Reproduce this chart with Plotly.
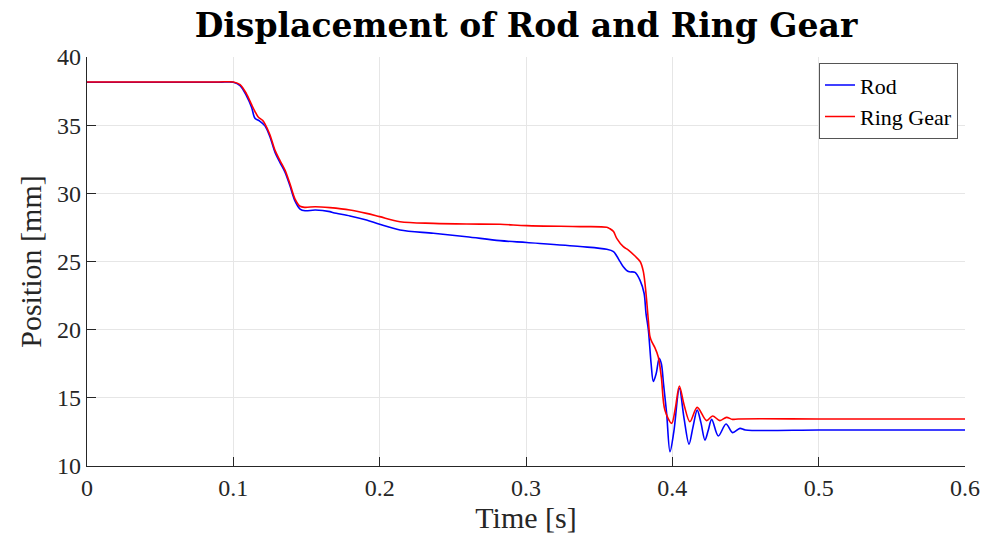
import plotly.graph_objects as go

# Time [s] and positions [mm]
t_rod = [0.0, 0.05, 0.09, 0.1, 0.1046, 0.109, 0.1125, 0.1148, 0.118, 0.1216, 0.125, 0.1285,
         0.1319, 0.1353, 0.1387, 0.1421, 0.1456, 0.149, 0.156, 0.166, 0.1684, 0.1797, 0.191,
         0.2, 0.2139, 0.2367, 0.2594, 0.2822, 0.3005, 0.337, 0.3552, 0.3598, 0.362, 0.3643,
         0.3665, 0.37, 0.3745, 0.378, 0.3807, 0.382, 0.3836, 0.3855, 0.387, 0.389, 0.391,
         0.3925, 0.394, 0.3961, 0.3984, 0.401, 0.4048, 0.408, 0.4114, 0.414, 0.417, 0.4195,
         0.4223, 0.4245, 0.4269, 0.4314, 0.4367, 0.4412, 0.4462, 0.45, 0.5, 0.55, 0.6]
rod = [38.15, 38.15, 38.15, 38.15, 37.9, 37.15, 36.3, 35.5, 35.3, 34.95, 34.15, 33.0,
       32.25, 31.55, 30.55, 29.45, 28.85, 28.72, 28.78, 28.66, 28.58, 28.34, 28.04,
       27.73, 27.31, 27.07, 26.82, 26.53, 26.39, 26.1, 25.9, 25.73, 25.4, 24.99,
       24.62, 24.26, 24.2, 23.6, 22.67, 21.2, 20.0, 17.5, 16.2, 16.8, 17.9,
       17.5, 16.0, 13.86, 11.05, 12.5, 15.7, 13.5, 11.6, 12.8, 14.1, 13.2,
       11.9, 12.6, 13.42, 12.2, 13.08, 12.45, 12.76, 12.64, 12.64, 12.64, 12.64]

t_ring = [0.0, 0.05, 0.09, 0.1, 0.1046, 0.109, 0.1125, 0.1148, 0.117, 0.12, 0.1216, 0.125,
          0.1285, 0.1319, 0.1353, 0.1387, 0.1421, 0.1456, 0.149, 0.156, 0.166, 0.1797, 0.191,
          0.2, 0.2139, 0.2367, 0.2594, 0.2822, 0.3005, 0.337, 0.3552, 0.3574, 0.3598, 0.362,
          0.3665, 0.37, 0.3745, 0.378, 0.3802, 0.382, 0.3836, 0.3847, 0.386, 0.388, 0.3904,
          0.3925, 0.3949, 0.3995, 0.402, 0.4048, 0.408, 0.412, 0.417, 0.4234, 0.4275, 0.4325,
          0.437, 0.441, 0.445, 0.5, 0.55, 0.6]
ring = [38.17, 38.17, 38.17, 38.17, 37.98, 37.3, 36.5, 36.0, 35.6, 35.35, 35.1, 34.3,
        33.15, 32.4, 31.7, 30.7, 29.6, 29.05, 28.97, 29.02, 28.95, 28.78, 28.53,
        28.29, 27.92, 27.8, 27.75, 27.73, 27.63, 27.56, 27.51, 27.4, 27.2, 26.7,
        26.09, 25.84, 25.4, 25.0, 24.26, 22.67, 20.7, 19.5, 19.1, 18.7, 18.0,
        16.5, 14.1, 13.13, 14.2, 15.87, 14.5, 13.25, 14.3, 13.33, 13.67, 13.33,
        13.57, 13.42, 13.45, 13.45, 13.45, 13.45]

x_ticks = [0, 0.1, 0.2, 0.3, 0.4, 0.5, 0.6]
y_ticks = [10, 15, 20, 25, 30, 35, 40]

serif = "Liberation Serif"
axis_col = "#262626"

fig = go.Figure()
fig.add_trace(go.Scatter(x=t_rod, y=rod, mode="lines", name="Rod",
                         line=dict(color="rgb(0,0,255)", width=1.6, shape="spline", smoothing=0.9)))
fig.add_trace(go.Scatter(x=t_ring, y=ring, mode="lines", name="Ring Gear",
                         line=dict(color="rgb(255,0,0)", width=1.6, shape="spline", smoothing=0.9)))

fig.update_layout(
    width=981, height=538,
    margin=dict(l=87, r=16, t=57, b=72),
    paper_bgcolor="white", plot_bgcolor="white",
    title=dict(text="<b>Displacement of Rod and Ring Gear</b>",
               font=dict(family="DejaVu Serif", size=33, color="black"),
               x=526 / 981, xanchor="center", xref="container",
               y=1 - 25 / 538, yanchor="middle", yref="container"),
    showlegend=True,
    legend=dict(x=(958 - 87) / 878, y=0.985, xanchor="right", yanchor="top",
                bgcolor="white", bordercolor="#555555", borderwidth=1,
                font=dict(family=serif, size=22, color="black"),
                tracegroupgap=0, itemwidth=30),
    xaxis=dict(range=[0, 0.6], tickvals=x_ticks, ticktext=[str(v) for v in x_ticks],
               automargin=False,
               showgrid=True, gridcolor="#e6e6e6", gridwidth=1,
               showline=True, linecolor=axis_col, linewidth=1.2,
               ticks="inside", ticklen=9, tickcolor=axis_col, tickwidth=1,
               tickfont=dict(family=serif, size=24, color=axis_col),
               zeroline=False, mirror=False,
               title=dict(text="Time [s]", font=dict(family=serif, size=30, color=axis_col),
                          standoff=6)),
    yaxis=dict(range=[10, 40], tickvals=y_ticks, ticktext=[str(v) for v in y_ticks],
               automargin=False,
               showgrid=True, gridcolor="#e6e6e6", gridwidth=1,
               showline=True, linecolor=axis_col, linewidth=1.2,
               ticks="inside", ticklen=9, tickcolor=axis_col, tickwidth=1,
               tickfont=dict(family=serif, size=24, color=axis_col),
               zeroline=False, mirror=False,
               title=dict(text="Position [mm]", font=dict(family=serif, size=30, color=axis_col),
                          standoff=6)),
)

fig.write_html("out.html")
